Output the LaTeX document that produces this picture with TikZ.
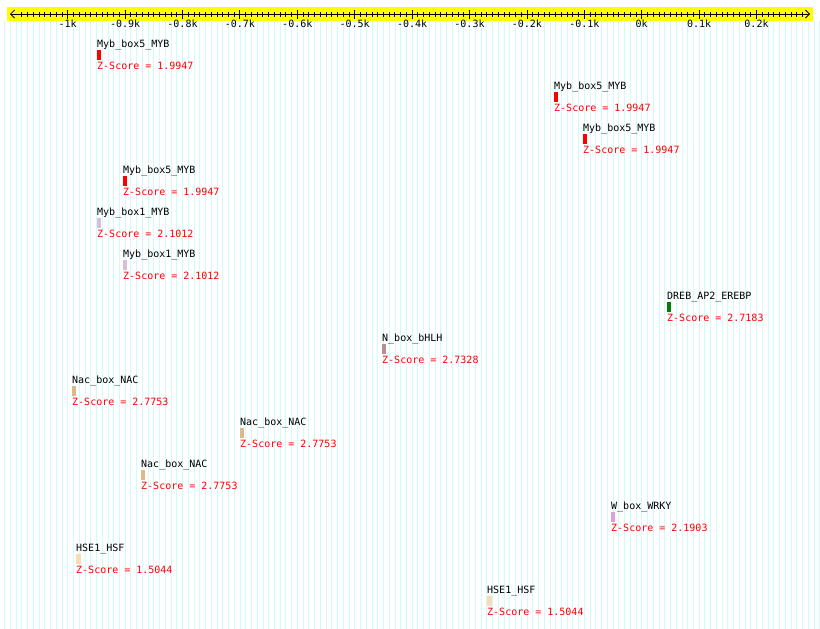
\documentclass[tikz,border=0pt]{standalone}
\usepackage{fontspec}
\setmonofont{DejaVu Sans Mono}
\usepackage{tikz}
\usetikzlibrary{arrows.meta,positioning}

\definecolor{gridcyan}{RGB}{208,250,252}
\definecolor{rulerbg}{RGB}{255,255,0}
\definecolor{mthistle}{HTML}{D8BFD8}
\definecolor{mgreen}{HTML}{008000}
\definecolor{mrosy}{HTML}{BC8F8F}
\definecolor{mburly}{HTML}{DEB887}
\definecolor{mplum}{HTML}{DDA0DD}
\definecolor{mwheat}{HTML}{F5DEB3}

\begin{document}
\begin{tikzpicture}[
    x=1pt, y=-1pt,
    >={Straight Barb[length=4pt,width=8pt]},
    motif/.style={
      anchor=base west,
      inner sep=0pt,
      font=\ttfamily\fontsize{10}{10}\selectfont
    },
    score/.style={motif, text=red},
    bar/.style={
      rectangle,
      inner sep=0pt,
      minimum height=10pt
    },
    ticklabel/.style={
      anchor=base,
      inner sep=0pt,
      font=\ttfamily\fontsize{10}{10}\selectfont
    }
  ]
  \useasboundingbox[fill=white] (0,0) rectangle (820,629);
  % background grid
  \foreach \p in {-1110,-1100,...,310}
    \draw[gridcyan, line width=0.7pt] ({641.7+0.574*\p},21) -- ({641.7+0.574*\p},629);
  % ruler
  \fill[rulerbg] (7,7) rectangle (813,21);
  \coordinate (rl) at (10,14);
  \coordinate (rr) at (810,14);
  \draw[<->, line width=0.8pt] (rl) -- (rr);
  \foreach \p in {-1080,-1070,...,280}
    \draw[line width=0.8pt] ({641.7+0.574*\p},12) -- ({641.7+0.574*\p},17);
  \foreach \p/\t [count=\k] in {-1000/-1k,-900/-0.9k,-800/-0.8k,-700/-0.7k,-600/-0.6k,
      -500/-0.5k,-400/-0.4k,-300/-0.3k,-200/-0.2k,-100/-0.1k,0/0k,100/0.1k,200/0.2k} {
    \draw[line width=0.8pt] ({641.7+0.574*\p},10) -- ({641.7+0.574*\p},19);
    \node[ticklabel] (t\k) at ({641.7+0.574*\p},27.3) {\t};
  }
  % binding sites
  \foreach \nm/\x/\y/\col/\sc/\w [count=\i] in {
      Myb\_box5\_MYB/97/44/red/1.9947/4,
      Myb\_box5\_MYB/554/86/red/1.9947/4,
      Myb\_box5\_MYB/583/128/red/1.9947/4,
      Myb\_box5\_MYB/123/170/red/1.9947/4,
      Myb\_box1\_MYB/97/212/mthistle/2.1012/4,
      Myb\_box1\_MYB/123/254/mthistle/2.1012/4,
      DREB\_AP2\_EREBP/667/296/mgreen/2.7183/4,
      N\_box\_bHLH/382/338/mrosy/2.7328/4,
      Nac\_box\_NAC/72/380/mburly/2.7753/4,
      Nac\_box\_NAC/240/422/mburly/2.7753/4,
      Nac\_box\_NAC/141/464/mburly/2.7753/4,
      W\_box\_WRKY/611/506/mplum/2.1903/4,
      HSE1\_HSF/76/548/mwheat/1.5044/5,
      HSE1\_HSF/487/590/mwheat/1.5044/5} {
    \node[motif] (m\i) at (\x,\y+3.5) {\nm};
    \node[bar, fill=\col, minimum width=\w pt, below=1.8pt of m\i.base west, anchor=north west] (b\i) {};
    \node[score] (z\i) at ([yshift=-22pt]m\i.base west) {Z-Score = \sc};
  }
\end{tikzpicture}
\end{document}
